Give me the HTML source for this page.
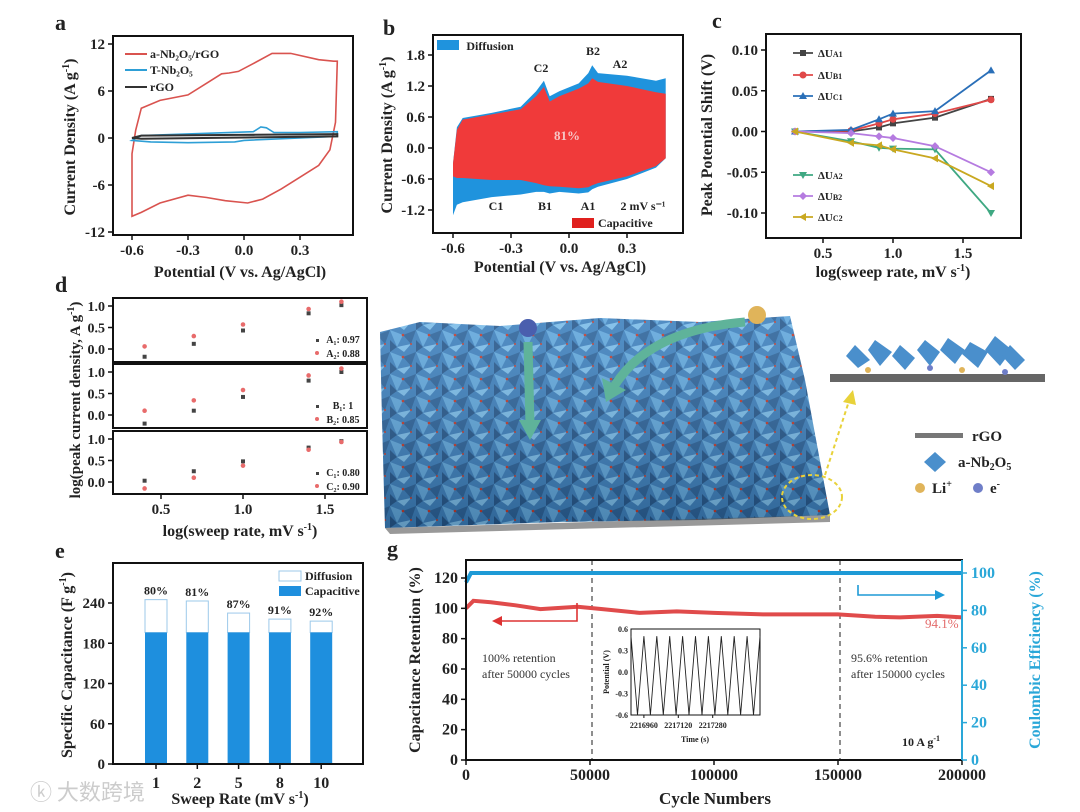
<!DOCTYPE html>
<html><head><meta charset="utf-8">
<style>
html,body{margin:0;padding:0;background:#fff;}
svg{display:block;font-family:"Liberation Serif","Noto Serif CJK SC",serif;}
.t{font-weight:bold;fill:#222;}
</style></head>
<body>
<svg id="fig" width="1080" height="812" viewBox="0 0 1080 812" xmlns="http://www.w3.org/2000/svg">
<defs>
<pattern id="oct" width="26" height="22" patternUnits="userSpaceOnUse">
<rect width="26" height="22" fill="#3b7fbd"/>
<polygon points="0,0 13,5 7,17" fill="#5ea6dc"/>
<polygon points="13,5 26,0 21,14" fill="#2a629a"/>
<polygon points="7,17 21,14 14,22" fill="#78bbe9"/>
<polygon points="0,22 7,17 0,10" fill="#24578c"/>
<circle cx="13" cy="5" r="1.3" fill="#c0392b"/>
<circle cx="21" cy="14" r="1" fill="#c0392b"/>
</pattern>
<linearGradient id="fade" x1="0" y1="0" x2="0" y2="1"><stop offset="0" stop-color="#fff" stop-opacity="0.12"/><stop offset="1" stop-color="#000" stop-opacity="0.2"/></linearGradient>
</defs>
<g id="pa"></g>
<g id="pb"></g>
<g id="pc"></g>
<g id="pd"></g>
<g id="pe"></g>
<g id="pf">
<polygon points="380,332 420,322 500,326 600,318 700,322 790,316 805,380 830,515 700,520 560,522 385,528 382,420" fill="url(#oct)"/>
<polygon points="380,332 420,322 500,326 600,318 700,322 790,316 805,380 830,515 700,520 560,522 385,528 382,420" fill="url(#fade)"/>
<polygon points="385,528 830,515 830,522 390,534" fill="#555" opacity="0.6"/>
<path d="M528,342 L530,425" stroke="#5fb39a" stroke-width="9" fill="none"/>
<polygon points="519,420 541,420 530,440" fill="#5fb39a"/>
<path d="M745,322 Q650,330 615,385" stroke="#5fb39a" stroke-width="9" fill="none"/>
<polygon points="602,378 626,390 606,402" fill="#5fb39a"/>
<circle cx="528" cy="328" r="9" fill="#4a5fae"/>
<circle cx="757" cy="315" r="9" fill="#e0b45a"/>
<ellipse cx="812" cy="497" rx="30" ry="22" fill="none" stroke="#e8d23a" stroke-width="2" stroke-dasharray="4,3"/>
<path d="M825,475 L850,398" stroke="#e8d23a" stroke-width="2" stroke-dasharray="4,3"/>
<polygon points="843,402 853,390 856,405" fill="#e8d23a"/>
<rect x="830" y="374" width="215" height="8" fill="#666"/>
<g fill="#4a8fcc">
<polygon points="855,345 870,360 858,368 846,356"/><polygon points="875,340 892,352 880,366 868,350"/><polygon points="900,345 915,358 905,370 892,356"/><polygon points="925,340 940,352 930,366 917,350"/><polygon points="948,338 965,350 955,364 940,350"/><polygon points="970,342 988,352 978,368 962,354"/><polygon points="995,336 1012,350 1000,366 985,350"/><polygon points="1010,345 1025,360 1015,370 1002,356"/>
</g>
<circle cx="868" cy="370" r="3" fill="#e0b45a"/><circle cx="962" cy="370" r="3" fill="#e0b45a"/><circle cx="930" cy="368" r="3" fill="#6f7ec8"/><circle cx="1005" cy="372" r="3" fill="#6f7ec8"/>
<rect x="915" y="433" width="48" height="5" fill="#777"/>
<text x="972" y="441" class="t" font-size="15">rGO</text>
<polygon points="935,452 946,462 935,472 924,462" fill="#4a8fcc"/>
<text x="958" y="467" class="t" font-size="15">a-Nb<tspan font-size="10" dy="3">2</tspan><tspan dy="-3">O</tspan><tspan font-size="10" dy="3">5</tspan></text>
<circle cx="920" cy="488" r="5" fill="#e0b45a"/>
<text x="932" y="493" class="t" font-size="15">Li<tspan font-size="10" dy="-6">+</tspan></text>
<circle cx="978" cy="488" r="5" fill="#6f7ec8"/>
<text x="990" y="493" class="t" font-size="15">e<tspan font-size="10" dy="-6">-</tspan></text>
</g>
<g id="pg"></g>
<text x="30" y="800" font-size="22" fill="#ccc" font-family="'Noto Sans CJK SC',sans-serif">ⓚ 大数跨境</text>
</svg>
<script>
// ---------- data ----------
// panel a
const aRedUpE=[-0.6,-0.58,-0.55,-0.45,-0.3,-0.2,-0.12,-0.08,-0.03,0.05,0.15,0.25,0.4,0.48,0.5];
const aRedUpI=[-2,1,3.8,4.8,5.5,7,8.2,8.3,8.5,9.5,10.8,10.8,10,9.8,9.8];
const aRedLoE=[0.5,0.49,0.46,0.4,0.3,0.2,0.1,0.02,-0.1,-0.2,-0.3,-0.45,-0.55,-0.6];
const aRedLoI=[9.8,2,-1.5,-3.5,-5,-6.5,-7.8,-8.3,-8,-7.6,-7.3,-8.3,-9.5,-10];
const aBlueUpE=[-0.6,-0.55,-0.2,0.05,0.09,0.12,0.16,0.3,0.5];
const aBlueUpI=[-0.3,0.3,0.6,0.8,1.4,1.3,0.7,0.7,0.8];
const aBlueLoE=[0.5,0.3,0.0,-0.05,-0.3,-0.5,-0.6];
const aBlueLoI=[0.2,0.0,-0.3,-0.5,-0.6,-0.5,-0.3];
const aGrayUpE=[-0.6,-0.55,0.5];
const aGrayUpI=[0.0,0.3,0.5];
const aGrayLoE=[0.5,-0.55,-0.6];
const aGrayLoI=[0.2,-0.1,0.0];
const aXTicks=[-0.6,-0.3,0.0,0.3];
const aYTicks=[-12,-6,0,6,12];
// panel b
const bE=[-0.6,-0.58,-0.55,-0.4,-0.25,-0.17,-0.13,-0.1,-0.05,0.05,0.1,0.12,0.15,0.3,0.45,0.5];
const bOutUp=[-0.3,0.4,0.58,0.68,0.8,1.1,1.3,1.0,1.1,1.25,1.45,1.6,1.45,1.4,1.3,1.35];
const bCapUp=[-0.3,0.35,0.55,0.65,0.75,1.0,1.18,0.9,1.0,1.15,1.25,1.35,1.28,1.2,1.08,1.05];
const bCapLo=[-0.55,-0.58,-0.58,-0.62,-0.62,-0.68,-0.72,-0.74,-0.75,-0.78,-0.76,-0.72,-0.68,-0.55,-0.35,-0.2];
const bOutLo=[-1.3,-1.1,-1.05,-0.95,-0.9,-0.85,-0.85,-0.88,-0.85,-0.88,-0.86,-0.8,-0.75,-0.6,-0.38,-0.2];
const bXTicks=[-0.6,-0.3,0.0,0.3];
const bYTicks=[-1.2,-0.6,0.0,0.6,1.2,1.8];
// panel c
const cX=[0.3,0.7,0.9,1.0,1.3,1.7];
const cA1=[0,0,0.005,0.01,0.017,0.04];
const cB1=[0,0.001,0.01,0.015,0.022,0.039];
const cC1=[0,0.002,0.015,0.022,0.025,0.075];
const cA2=[0,-0.012,-0.02,-0.021,-0.022,-0.1];
const cB2=[0,-0.002,-0.006,-0.008,-0.018,-0.05];
const cC2=[0,-0.014,-0.017,-0.022,-0.033,-0.067];
const cXTicks=[0.5,1.0,1.5];
const cYTicks=[-0.10,-0.05,0.00,0.05,0.10];
// panel d
const dX=[0.4,0.7,1.0,1.4,1.6];
const dA1=[-0.18,0.12,0.43,0.83,1.02];
const dA2=[0.06,0.3,0.57,0.93,1.1];
const dB1=[-0.2,0.1,0.42,0.8,1.0];
const dB2=[0.1,0.34,0.58,0.92,1.08];
const dC1=[0.03,0.25,0.48,0.8,0.95];
const dC2=[-0.15,0.1,0.38,0.75,0.93];
const dXTicks=[0.5,1.0,1.5];
const dYTicks=[0.0,0.5,1.0];
// panel e
const eRates=['1','2','5','8','10'];
const eTotal=[245,243,225,216,213];
const eCap=[196,196,196,196,196];
const ePct=['80%','81%','87%','91%','92%'];
const eYTicks=[0,60,120,180,240];
// panel g
const gCyc=[0,3000,10000,20000,30000,45000,55000,70000,85000,100000,120000,150000,165000,175000,190000,200000];
const gRet=[100,105,104,102,99.5,101,99.5,97,98,97,96,96,94.5,94,95,94];
const gCECyc=[0,2000,200000];
const gCE=[95,100,100];
const gXTicks=[0,50000,100000,150000,200000];
const gYTicks=[0,20,40,60,80,100,120];
const gY2Ticks=[0,20,40,60,80,100];
const gInsetTimes=[2216900,2216930,2216960,2216990,2217020,2217050,2217080,2217110,2217140,2217170,2217200,2217230,2217260,2217290,2217320,2217350,2217380,2217410,2217440,2217470,2217500];
const gInsetV=[0.5,-0.6,0.5,-0.6,0.5,-0.6,0.5,-0.6,0.5,-0.6,0.5,-0.6,0.5,-0.6,0.5,-0.6,0.5,-0.6,0.5,-0.6,0.5];
const gInsetXTicks=[2216960,2217120,2217280];
const gInsetYTicks=[-0.6,-0.3,0.0,0.3,0.6];

// ---------- helpers ----------
const NS='http://www.w3.org/2000/svg';
function mk(parent,tag,attrs,txt){const e=document.createElementNS(NS,tag);for(const k in attrs)e.setAttribute(k,attrs[k]);if(txt!==undefined)e.textContent=txt;parent.appendChild(e);return e;}
function lin(d0,d1,r0,r1){return v=>r0+(v-d0)*(r1-r0)/(d1-d0);}
function pts(xs,ys,sx,sy){return xs.map((x,i)=>sx(x).toFixed(1)+','+sy(ys[i]).toFixed(1)).join(' ');}
function box(g,x0,y0,x1,y1){const r=mk(g,'rect',{x:x0,y:y0,width:x1-x0,height:y1-y0,fill:'none',stroke:'#111','stroke-width':2});return r;}
function xticks(g,ticks,sx,y,fmt,fs){ticks.forEach(t=>{mk(g,'line',{x1:sx(t),x2:sx(t),y1:y,y2:y+5,stroke:'#111','stroke-width':1.5});const tx=mk(g,'text',{x:sx(t),y:y+20,'text-anchor':'middle','font-size':fs||15,class:'t'},fmt(t));});}
function yticks(g,ticks,sy,x,fmt,fs,right,col){ticks.forEach(t=>{mk(g,'line',{x1:x,x2:right?x+5:x-5,y1:sy(t),y2:sy(t),stroke:col||'#111','stroke-width':1.5});const tx=mk(g,'text',{x:right?x+9:x-8,y:sy(t)+5,'text-anchor':right?'start':'end','font-size':fs||15,class:'t',style:col?'fill:'+col:''},fmt(t));});}
function label(g,x,y,s,fs,rot,name,anchor){const a={x:x,y:y,'text-anchor':anchor||'middle','font-size':fs,class:'t'};if(rot)a.transform='rotate(-90 '+x+' '+y+')';const t=mk(g,'text',a);t.innerHTML=s;return t;}
function letter(g,x,y,s){const t=mk(g,'text',{x:x,y:y,'font-size':22,class:'t'},s);}
const f1=v=>v.toFixed(1), f0=v=>String(v), f2=v=>v.toFixed(2);

// ---------- panel a ----------
(function(){const g=document.getElementById('pa');
const sx=lin(-0.6,0.3,132,300), sy=lin(12,-12,44,232);
letter(g,55,30,'a');
const loops=[[aRedUpE,aRedUpI,aRedLoE,aRedLoI,'#d9534f','cv-a-nb2o5-rgo'],[aBlueUpE,aBlueUpI,aBlueLoE,aBlueLoI,'#2e9fd6','cv-t-nb2o5'],[aGrayUpE,aGrayUpI,aGrayLoE,aGrayLoI,'#333','cv-rgo']];
loops.forEach(L=>{const p=mk(g,'polygon',{points:pts(L[0].concat(L[2]),L[1].concat(L[3]),sx,sy),fill:'none',stroke:L[4],'stroke-width':L[4]=='#333'?2:1.6});});
box(g,113,36,353,235);
xticks(g,aXTicks,sx,235,f1,15);yticks(g,aYTicks,sy,113,f0,15);
label(g,240,277,'Potential (V vs. Ag/AgCl)',16,false,'x-axis-title');
label(g,75,137,'Current Density (A g<tspan font-size="10" dy="-6">-1</tspan><tspan dy="6">)</tspan>',16,true,'y-axis-title');
[['#d9534f','a-Nb₂O₅/rGO',54],['#2e9fd6','T-Nb₂O₅',70],['#333','rGO',87]].forEach(l=>{mk(g,'line',{x1:125,x2:147,y1:l[2],y2:l[2],stroke:l[0],'stroke-width':2});const t=mk(g,'text',{x:150,y:l[2]+4,'font-size':12,class:'t'},l[1]);});
})();

// ---------- panel b ----------
(function(){const g=document.getElementById('pb');
const sx=lin(-0.6,0.3,453,627), sy=lin(1.8,-1.2,55,210);
letter(g,383,35,'b');
const rE=bE.slice().reverse();
const o=mk(g,'polygon',{points:pts(bE.concat(rE),bOutUp.concat(bOutLo.slice().reverse()),sx,sy),fill:'#1f93dd'});
const c=mk(g,'polygon',{points:pts(bE.concat(rE),bCapUp.concat(bCapLo.slice().reverse()),sx,sy),fill:'#f03a3a'});
box(g,433,35,683,233);
xticks(g,bXTicks,sx,233,f1,15);yticks(g,bYTicks,sy,433,f1,15);
label(g,560,272,'Potential (V vs. Ag/AgCl)',16,false,'x-axis-title');
label(g,392,135,'Current Density (A g<tspan font-size="10" dy="-6">-1</tspan><tspan dy="6">)</tspan>',16,true,'y-axis-title');
mk(g,'rect',{x:437,y:40,width:22,height:10,fill:'#1f93dd'});
label(g,490,50,'Diffusion',12,false,'legend-diffusion');
mk(g,'rect',{x:572,y:218,width:22,height:10,fill:'#e0201e'});
label(g,598,227,'Capacitive',12,false,'legend-capacitive','start');
[['C2',541,72],['B2',593,55],['A2',620,68],['C1',496,210],['B1',545,210],['A1',588,210],['2 mV s⁻¹',643,210]].forEach(a=>label(g,a[1],a[2],a[0],12,false,'peak-label'));
const p=label(g,567,140,'81%',13,false,'capacitive-percent');p.setAttribute('style','fill:#f6c6c6');
})();

// ---------- panel c ----------
(function(){const g=document.getElementById('pc');
const sx=lin(0.5,1.5,823,963), sy=lin(0.1,-0.1,50,213);
letter(g,712,28,'c');
const ser=[[cA1,'#444','sq','ΔU<tspan font-size="8">A1</tspan>'],[cB1,'#e04848','ci','ΔU<tspan font-size="8">B1</tspan>'],[cC1,'#2a6fb8','tr','ΔU<tspan font-size="8">C1</tspan>'],[cA2,'#3fa882','td','ΔU<tspan font-size="8">A2</tspan>'],[cB2,'#b57be0','di','ΔU<tspan font-size="8">B2</tspan>'],[cC2,'#c9a820','lt','ΔU<tspan font-size="8">C2</tspan>']];
function marker(x,y,t,col){if(t=='sq')mk(g,'rect',{x:x-3,y:y-3,width:6,height:6,fill:col});else if(t=='ci')mk(g,'circle',{cx:x,cy:y,r:3.5,fill:col});else if(t=='tr')mk(g,'polygon',{points:`${x},${y-4} ${x+4},${y+3} ${x-4},${y+3}`,fill:col});else if(t=='td')mk(g,'polygon',{points:`${x},${y+4} ${x+4},${y-3} ${x-4},${y-3}`,fill:col});else if(t=='di')mk(g,'polygon',{points:`${x},${y-4} ${x+4},${y} ${x},${y+4} ${x-4},${y}`,fill:col});else mk(g,'polygon',{points:`${x-4},${y} ${x+3},${y-4} ${x+3},${y+4}`,fill:col});}
const legY=[53,75,96,175,196,217];
ser.forEach((s,i)=>{const l=mk(g,'polyline',{points:pts(cX,s[0],sx,sy),fill:'none',stroke:s[1],'stroke-width':1.8});cX.forEach((x,j)=>marker(sx(x),sy(s[0][j]),s[2],s[1]));
mk(g,'line',{x1:793,x2:813,y1:legY[i],y2:legY[i],stroke:s[1],'stroke-width':1.8});marker(803,legY[i],s[2],s[1]);const t=mk(g,'text',{x:818,y:legY[i]+4,'font-size':11,class:'t'});t.innerHTML=s[3];});
box(g,766,34,1021,238);
xticks(g,cXTicks,sx,238,f1,15);yticks(g,cYTicks,sy,766,f2,15);
label(g,893,277,'log(sweep rate, mV s<tspan font-size="10" dy="-6">-1</tspan><tspan dy="6">)</tspan>',16,false,'x-axis-title');
label(g,712,135,'Peak Potential Shift (V)',16,true,'y-axis-title');
})();

// ---------- panel d ----------
(function(){const g=document.getElementById('pd');
const sx=lin(0.5,1.5,161,325);
letter(g,55,292,'d');
const panels=[[298,362,dA1,dA2,'A₁: 0.97','A₂: 0.88'],[364,428,dB1,dB2,'B₁: 1','B₂: 0.85'],[431,494,dC1,dC2,'C₁: 0.80','C₂: 0.90']];
panels.forEach(p=>{const sy=lin(1.0,0.0,p[0]+8,p[0]+51);
p[2].forEach((v,i)=>{const c=mk(g,'rect',{x:sx(dX[i])-2,y:sy(v)-2,width:4,height:4,fill:'#444'});});
p[3].forEach((v,i)=>{const c=mk(g,'circle',{cx:sx(dX[i]),cy:sy(v),r:2.3,fill:'#e86b6b'});});
box(g,113,p[0],367,p[1]);yticks(g,dYTicks,sy,113,f1,14);
mk(g,'rect',{x:316,y:p[0]+41,width:3,height:3,fill:'#444'});mk(g,'circle',{cx:317,cy:p[0]+55,r:2,fill:'#e86b6b'});
label(g,343,p[0]+45,p[4],10,false,'fit-label');label(g,343,p[0]+59,p[5],10,false,'fit-label');});
xticks(g,dXTicks,sx,494,f1,15);
label(g,240,536,'log(sweep rate, mV s<tspan font-size="10" dy="-6">-1</tspan><tspan dy="6">)</tspan>',16,false,'x-axis-title');
label(g,80,400,'log(peak current density, A g<tspan font-size="10" dy="-6">-1</tspan><tspan dy="6">)</tspan>',15,true,'y-axis-title');
})();

// ---------- panel e ----------
(function(){const g=document.getElementById('pe');
const sy=lin(0,240,764,603);const cx=i=>156+i*41.3;
letter(g,55,558,'e');
eRates.forEach((r,i)=>{const x=cx(i)-11;
const d=mk(g,'rect',{x:x,y:sy(eTotal[i]),width:22,height:sy(eCap[i])-sy(eTotal[i]),fill:'#fff',stroke:'#9cc9ea','stroke-width':1});
const c=mk(g,'rect',{x:x,y:sy(eCap[i]),width:22,height:sy(0)-sy(eCap[i]),fill:'#1e8fde'});
label(g,cx(i),sy(eTotal[i])-5,ePct[i],12,false,'bar-percent-label');
mk(g,'line',{x1:cx(i),x2:cx(i),y1:764,y2:769,stroke:'#111','stroke-width':1.5});
label(g,cx(i),788,r,16,false,'x-tick-label');});
box(g,113,563,363,764);yticks(g,eYTicks,sy,113,f0,15);
label(g,240,804,'Sweep Rate (mV s<tspan font-size="10" dy="-6">-1</tspan><tspan dy="6">)</tspan>',16,false,'x-axis-title');
label(g,72,665,'Specific Capacitance (F g<tspan font-size="10" dy="-6">-1</tspan><tspan dy="6">)</tspan>',16,true,'y-axis-title');
mk(g,'rect',{x:279,y:571,width:22,height:10,fill:'#fff',stroke:'#9cc9ea'});label(g,305,580,'Diffusion',12,false,'legend-diffusion','start');
mk(g,'rect',{x:279,y:586,width:22,height:10,fill:'#1e8fde'});label(g,305,595,'Capacitive',12,false,'legend-capacitive','start');
})();

// ---------- panel g ----------
(function(){const g=document.getElementById('pg');
const sx=lin(0,200000,466,962), sy=lin(0,120,760,578), sy2=lin(0,100,760,573);
letter(g,387,556,'g');
[50000,150000].forEach(c=>mk(g,'line',{x1:sx(c)+2,x2:sx(c)+2,y1:560,y2:760,stroke:'#444','stroke-width':1.2,'stroke-dasharray':'5,4'}));
const r=mk(g,'polyline',{points:pts(gCyc,gRet,sx,sy),fill:'none',stroke:'#e04b4b','stroke-width':4});
const b=mk(g,'polyline',{points:pts(gCECyc,gCE,sx,sy2),fill:'none',stroke:'#1e9ad6','stroke-width':4});
mk(g,'polyline',{points:'577,603 577,621 500,621',fill:'none',stroke:'#d33','stroke-width':1.6});mk(g,'polygon',{points:'492,621 502,616 502,626',fill:'#d33'});
mk(g,'polyline',{points:'858,585 858,595 937,595',fill:'none',stroke:'#1e9ad6','stroke-width':1.6});mk(g,'polygon',{points:'945,595 935,590 935,600',fill:'#1e9ad6'});
mk(g,'rect',{x:466,y:560,width:496,height:200,fill:'none',stroke:'#111','stroke-width':2});
xticks(g,gXTicks,sx,760,f0,16);yticks(g,gYTicks,sy,466,f0,16);
mk(g,'line',{x1:962,x2:962,y1:560,y2:760,stroke:'#2aa7d8','stroke-width':2});
yticks(g,gY2Ticks,sy2,962,f0,16,true,'#2aa7d8');
label(g,715,804,'Cycle Numbers',17,false,'x-axis-title');
label(g,420,660,'Capacitance Retention (%)',16,true,'y-axis-title');
const t2=label(g,1040,660,'Coulombic Efficiency (%)',16,true,'y2-axis-title');t2.setAttribute('style','fill:#2aa7d8');
const fs={'font-size':12,fill:'#333','font-family':'Liberation Serif'};
[['100% retention',482,662],['after 50000 cycles',482,678],['95.6% retention',851,662],['after 150000 cycles',851,678]].forEach(a=>{const t=mk(g,'text',Object.assign({x:a[1],y:a[2]},fs),a[0]);});
const p=mk(g,'text',{x:925,y:628,'font-size':13,fill:'#e36a6a','font-family':'Liberation Serif'},'94.1%');
label(g,921,746,'10 A g<tspan font-size="8" dy="-5">-1</tspan>',12,false,'current-density-label');
// inset
const ix=lin(2216900,2217500,631,760), iy=lin(0.6,-0.6,629,715);
mk(g,'rect',{x:631,y:629,width:129,height:86,fill:'#fff',stroke:'#111','stroke-width':1});
const il=mk(g,'polyline',{points:pts(gInsetTimes,gInsetV,ix,iy),fill:'none',stroke:'#222','stroke-width':0.9});
gInsetYTicks.forEach(t=>{mk(g,'text',{x:628,y:iy(t)+3,'text-anchor':'end','font-size':8,class:'t'},t.toFixed(1));});
gInsetXTicks.forEach(t=>{mk(g,'line',{x1:ix(t),x2:ix(t),y1:715,y2:718,stroke:'#111'});mk(g,'text',{x:ix(t),y:728,'text-anchor':'middle','font-size':8,class:'t'},String(t));});
label(g,695,742,'Time (s)',8,false,'inset-x-title');
label(g,609,672,'Potential (V)',8,true,'inset-y-title');
})();
</script>
</body></html>
